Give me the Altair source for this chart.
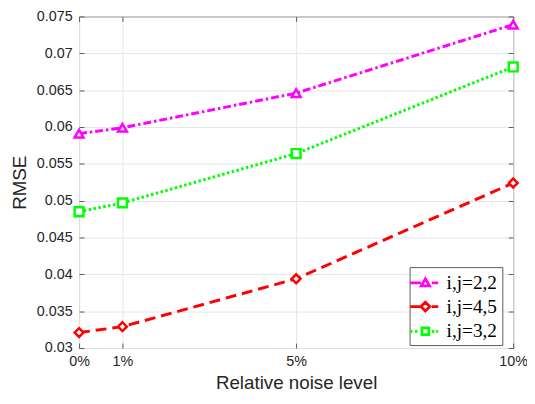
import altair as alt
import pandas as pd

noise = [0, 1, 5, 10]
series_names = ["i,j=2,2", "i,j=4,5", "i,j=3,2"]
rmse_22 = [0.0591, 0.0599, 0.0646, 0.0739]
rmse_45 = [0.0321, 0.0329, 0.0394, 0.0524]
rmse_32 = [0.0485, 0.0497, 0.0564, 0.06815]
colors = ["#ff00ff", "#ff0000", "#00ff00"]
x_ticks = [0, 1, 5, 10]
y_ticks = [0.03, 0.035, 0.04, 0.045, 0.05, 0.055, 0.06, 0.065, 0.07, 0.075]

rows = []
for name, vals in zip(series_names, [rmse_22, rmse_45, rmse_32]):
    for n, v in zip(noise, vals):
        rows.append({"noise": n, "rmse": v, "series": name})
df = pd.DataFrame(rows)

TXT = "#262626"
AX = "#5a5a5a"

def xs():
    return alt.Scale(domain=[0, 10], nice=False, zero=False)

def ys():
    return alt.Scale(domain=[0.03, 0.075], nice=False, zero=False)

def cat(rng):
    return alt.Scale(domain=series_names, range=rng)

def xaxis():
    return alt.Axis(
        values=x_ticks, labelExpr="datum.value + '%'", title="Relative noise level",
        orient="bottom", offset=-5, tickSize=5, domain=False, grid=True,
        labelPadding=7, titlePadding=6, labelFlush=False, labelOverlap=False)

def yaxis():
    return alt.Axis(
        values=y_ticks, format=".3~f", title="RMSE", orient="left", offset=-5,
        tickSize=5, domain=False, grid=True, labelPadding=7, titlePadding=7,
        labelFlush=False, labelOverlap=False)

base = alt.Chart(df)

lines = base.mark_line(strokeWidth=3, strokeCap="butt").encode(
    x=alt.X("noise:Q", scale=xs(), axis=xaxis(), title="Relative noise level"),
    y=alt.Y("rmse:Q", scale=ys(), axis=yaxis(), title="RMSE"),
    color=alt.Color("series:N", scale=cat(colors), legend=None),
    strokeDash=alt.StrokeDash("series:N", scale=cat([[8, 3, 2.5, 3], [11, 6], [2.5, 2.5]]), legend=None),
)

markers = base.mark_point(filled=True, fill="white", strokeWidth=2.5, opacity=1).encode(
    x=alt.X("noise:Q", scale=xs(), axis=xaxis(), title="Relative noise level"),
    y=alt.Y("rmse:Q", scale=ys(), axis=yaxis(), title="RMSE"),
    stroke=alt.Stroke("series:N", scale=cat(colors), legend=None),
    shape=alt.Shape("series:N", scale=cat(["triangle-up", "diamond", "square"]), legend=None),
    size=alt.Size("series:N", scale=cat([80, 80, 48]), legend=None),
)

p_tri = "M-1.55,0H-0.45M-0.42,0.3L0,-0.42L0.42,0.3ZM0.65,0H1.3"
p_dia = "M-1.55,0H-0.45M-0.45,0L0,-0.45L0.45,0L0,0.45ZM0.65,0H1.3"
p_sq = "M-1.55,0H-1.3M-1.05,0H-0.8M-0.35,-0.35H0.35V0.35H-0.35ZM0.65,0H0.9M1.1,0H1.3"

legend_layer = base.mark_point(filled=False, clip=True, strokeWidth=2.8, opacity=1).transform_calculate(
    noise="-50"
).encode(
    x=alt.X("noise:Q", scale=xs(), axis=xaxis(), title="Relative noise level"),
    y=alt.Y("rmse:Q", scale=ys(), axis=yaxis(), title="RMSE"),
    color=alt.Color("series:N", scale=cat(colors), legend=alt.Legend(title=None)),
    shape=alt.Shape("series:N", scale=cat([p_tri, p_dia, p_sq]), legend=alt.Legend(title=None)),
)

inner = alt.layer(lines, markers, legend_layer).resolve_scale(
    color="independent", shape="independent", stroke="independent", size="independent",
    strokeDash="independent"
)

tick_layer = base.mark_point(opacity=0).encode(
    x=alt.X("noise:Q", scale=xs(), axis=alt.Axis(
        orient="top", values=x_ticks, labels=False, domain=False, grid=False,
        tickSize=5, offset=-5, title=None)),
    y=alt.Y("rmse:Q", scale=ys(), axis=alt.Axis(
        orient="right", values=y_ticks, labels=False, domain=False, grid=False,
        tickSize=5, offset=-5, title=None)),
)

chart = alt.layer(inner, tick_layer).resolve_scale(
    x="independent", y="independent"
).properties(
    width=440, height=336,
    autosize=alt.AutoSizeParams(type="none"),
    padding={"left": 72, "top": 6, "right": 14, "bottom": 46},
).configure_view(
    stroke=AX, strokeWidth=1
).configure_axis(
    labelFont="Liberation Sans", labelFontSize=14.5, labelColor=TXT,
    titleFont="Liberation Sans", titleFontSize=19, titleFontWeight="normal", titleColor=TXT,
    gridColor="#e6e6e6", gridWidth=1, tickColor=AX, tickWidth=1,
).configure_legend(
    orient="none", legendX=335, legendY=254, padding=4.5, fillColor="white", strokeColor=AX,
    labelFont="Liberation Serif", labelFontSize=19.5, labelColor="black",
    symbolSize=400, symbolStrokeWidth=2.8, labelOffset=10, rowPadding=3,
    symbolFillColor="transparent", symbolOpacity=1,
)

chart.save("out.html", embed_options={"renderer": "svg", "actions": False})
